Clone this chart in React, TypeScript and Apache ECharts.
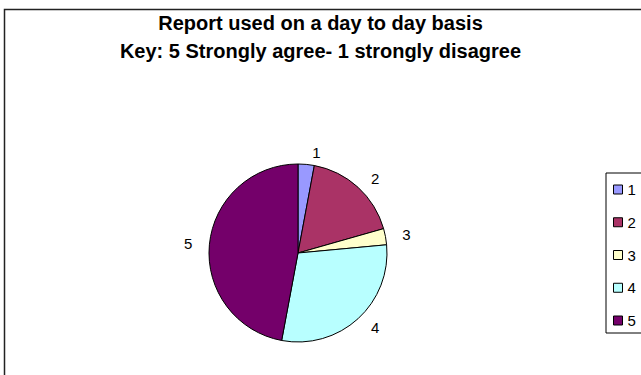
import React, { useEffect, useRef } from "react";
import * as echarts from "echarts";

const titleLines = ["Report used on a day to day basis", "Key: 5 Strongly agree- 1 strongly disagree"];
const categories = ["1", "2", "3", "4", "5"];
const values = [1, 6, 1, 10, 16];
const colors = ["#9999FF", "#AA3366", "#FFFFCC", "#B8FFFF", "#74006A"];

export default function App() {
  const ref = useRef<HTMLDivElement>(null);
  useEffect(() => {
    document.body.style.margin = "0";
    const chart = echarts.init(ref.current!, null, { renderer: "svg" });
    chart.setOption({
      animation: false,
      backgroundColor: "#ffffff",
      title: {
        text: titleLines.join("\n"),
        left: "center",
        top: 4,
        textStyle: {
          fontFamily: "Liberation Sans, Arial, sans-serif",
          fontWeight: "bold",
          fontSize: 20,
          lineHeight: 28,
          color: "#000",
        },
      },
      graphic: [
        {
          type: "rect",
          shape: { x: 4.5, y: 9.5, width: 800, height: 500 },
          style: { fill: "none", stroke: "#222", lineWidth: 1.5 },
          silent: true,
          z: -1,
        },
      ],
      legend: {
        orient: "vertical",
        left: 606,
        top: 173,
        padding: [9, 40, 5, 7],
        borderColor: "#000",
        borderWidth: 1,
        itemWidth: 9,
        itemHeight: 9,
        itemGap: 17.75,
        icon: "rect",
        itemStyle: { borderColor: "#000", borderWidth: 1 },
        textStyle: {
          fontFamily: "Liberation Sans, Arial, sans-serif",
          fontSize: 15,
          lineHeight: 15,
          color: "#000",
        },
        data: categories,
      },
      series: [
        {
          type: "pie",
          center: [298, 253],
          radius: 89,
          startAngle: 90,
          clockwise: true,
          itemStyle: { borderColor: "#000", borderWidth: 1 },
          label: {
            show: true,
            position: "outside",
            formatter: "{b}",
            fontFamily: "Liberation Sans, Arial, sans-serif",
            fontSize: 15,
            color: "#000",
          },
          labelLine: { show: false, length: 12, length2: 0 },
          emphasis: { disabled: true },
          data: categories.map((c, i) => ({
            name: c,
            value: values[i],
            itemStyle: { color: colors[i] },
          })),
        },
      ],
    });
    return () => chart.dispose();
  }, []);
  return <div ref={ref} style={{ width: 641, height: 375 }} />;
}
